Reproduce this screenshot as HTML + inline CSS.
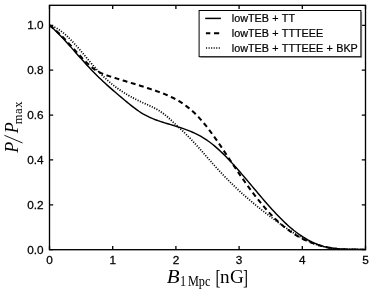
<!DOCTYPE html>
<html><head><meta charset="utf-8"><title>plot</title>
<style>
html,body{margin:0;padding:0;background:#fff;}
body{width:374px;height:294px;overflow:hidden;font-family:"Liberation Sans",sans-serif;}
svg{display:block;filter:grayscale(1);}
.t{font-family:"Liberation Sans",sans-serif;font-size:11px;fill:#000;stroke:#000;stroke-width:0.25px;}
.lg{font-family:"Liberation Sans",sans-serif;font-size:10.8px;fill:#000;stroke:#000;stroke-width:0.22px;word-spacing:0.35px;}
.m{font-family:"Liberation Serif",serif;fill:#000;}
</style></head><body>
<svg width="374" height="294" viewBox="0 0 374 294">
<rect width="374" height="294" fill="#fff"/>
<clipPath id="c"><rect x="49.5" y="5.3" width="316.0" height="244.39999999999998"/></clipPath>
<g clip-path="url(#c)" fill="none" stroke="#000" stroke-width="1.45">
<path d="M49.50,25.30 L51.49,27.01 L53.47,28.80 L55.46,30.68 L57.45,32.63 L59.44,34.64 L61.42,36.70 L63.41,38.82 L65.40,40.98 L67.39,43.18 L69.37,45.40 L71.36,47.64 L73.35,49.89 L75.34,52.15 L77.32,54.41 L79.31,56.66 L81.30,58.89 L83.29,61.10 L85.27,63.28 L87.26,65.44 L89.25,67.56 L91.24,69.65 L93.22,71.71 L95.21,73.74 L97.20,75.73 L99.19,77.68 L101.17,79.59 L103.16,81.46 L105.15,83.29 L107.14,85.10 L109.12,86.87 L111.11,88.63 L113.10,90.36 L115.08,92.07 L117.07,93.77 L119.06,95.46 L121.05,97.14 L123.03,98.82 L125.02,100.48 L127.01,102.14 L129.00,103.76 L130.98,105.36 L132.97,106.91 L134.96,108.41 L136.95,109.86 L138.93,111.24 L140.92,112.54 L142.91,113.77 L144.90,114.90 L146.88,115.95 L148.87,116.93 L150.86,117.83 L152.85,118.68 L154.83,119.47 L156.82,120.21 L158.81,120.91 L160.80,121.57 L162.78,122.21 L164.77,122.84 L166.76,123.44 L168.75,124.04 L170.73,124.64 L172.72,125.24 L174.71,125.84 L176.69,126.45 L178.68,127.08 L180.67,127.72 L182.66,128.39 L184.64,129.09 L186.63,129.82 L188.62,130.59 L190.61,131.39 L192.59,132.25 L194.58,133.15 L196.57,134.11 L198.56,135.13 L200.54,136.21 L202.53,137.37 L204.52,138.59 L206.51,139.89 L208.49,141.28 L210.48,142.75 L212.47,144.30 L214.46,145.92 L216.44,147.62 L218.43,149.39 L220.42,151.22 L222.41,153.12 L224.39,155.07 L226.38,157.07 L228.37,159.13 L230.36,161.23 L232.34,163.38 L234.33,165.56 L236.32,167.78 L238.31,170.03 L240.29,172.31 L242.28,174.61 L244.27,176.94 L246.25,179.27 L248.24,181.63 L250.23,183.99 L252.22,186.35 L254.20,188.72 L256.19,191.08 L258.18,193.44 L260.17,195.78 L262.15,198.11 L264.14,200.43 L266.13,202.72 L268.12,204.99 L270.10,207.23 L272.09,209.43 L274.08,211.60 L276.07,213.73 L278.05,215.82 L280.04,217.85 L282.03,219.84 L284.02,221.77 L286.00,223.64 L287.99,225.45 L289.98,227.19 L291.97,228.86 L293.95,230.47 L295.94,232.01 L297.93,233.48 L299.92,234.89 L301.90,236.22 L303.89,237.49 L305.88,238.69 L307.86,239.83 L309.85,240.89 L311.84,241.89 L313.83,242.82 L315.81,243.68 L317.80,244.47 L319.79,245.19 L321.78,245.84 L323.76,246.42 L325.75,246.93 L327.74,247.38 L329.73,247.76 L331.71,248.07 L333.70,248.34 L335.69,248.55 L337.68,248.73 L339.66,248.86 L341.65,248.97 L343.64,249.04 L345.63,249.10 L347.61,249.14 L349.60,249.17 L351.59,249.19 L353.58,249.22 L355.56,249.25 L357.55,249.30 L359.54,249.36 L361.53,249.44 L363.51,249.55 L365.50,249.70"/>
<path d="M49.50,25.30 L51.49,26.83 L53.47,28.46 L55.46,30.17 L57.45,31.96 L59.44,33.83 L61.42,35.77 L63.41,37.77 L65.40,39.83 L67.39,41.94 L69.37,44.09 L71.36,46.28 L73.35,48.49 L75.34,50.71 L77.32,52.92 L79.31,55.10 L81.30,57.24 L83.29,59.33 L85.27,61.35 L87.26,63.28 L89.25,65.11 L91.24,66.82 L93.22,68.40 L95.21,69.83 L97.20,71.09 L99.19,72.20 L101.17,73.17 L103.16,74.03 L105.15,74.80 L107.14,75.50 L109.12,76.15 L111.11,76.78 L113.10,77.40 L115.08,78.02 L117.07,78.63 L119.06,79.24 L121.05,79.85 L123.03,80.46 L125.02,81.06 L127.01,81.66 L129.00,82.27 L130.98,82.87 L132.97,83.48 L134.96,84.09 L136.95,84.70 L138.93,85.32 L140.92,85.94 L142.91,86.56 L144.90,87.20 L146.88,87.84 L148.87,88.48 L150.86,89.14 L152.85,89.80 L154.83,90.48 L156.82,91.17 L158.81,91.87 L160.80,92.60 L162.78,93.35 L164.77,94.14 L166.76,94.97 L168.75,95.83 L170.73,96.75 L172.72,97.71 L174.71,98.73 L176.69,99.82 L178.68,100.97 L180.67,102.19 L182.66,103.48 L184.64,104.86 L186.63,106.32 L188.62,107.87 L190.61,109.52 L192.59,111.26 L194.58,113.11 L196.57,115.07 L198.56,117.15 L200.54,119.33 L202.53,121.62 L204.52,124.00 L206.51,126.48 L208.49,129.03 L210.48,131.67 L212.47,134.37 L214.46,137.13 L216.44,139.94 L218.43,142.80 L220.42,145.70 L222.41,148.64 L224.39,151.59 L226.38,154.57 L228.37,157.56 L230.36,160.55 L232.34,163.54 L234.33,166.52 L236.32,169.48 L238.31,172.41 L240.29,175.32 L242.28,178.19 L244.27,181.03 L246.25,183.82 L248.24,186.58 L250.23,189.30 L252.22,191.97 L254.20,194.59 L256.19,197.17 L258.18,199.69 L260.17,202.16 L262.15,204.57 L264.14,206.92 L266.13,209.21 L268.12,211.44 L270.10,213.60 L272.09,215.69 L274.08,217.71 L276.07,219.66 L278.05,221.53 L280.04,223.32 L282.03,225.05 L284.02,226.69 L286.00,228.27 L287.99,229.78 L289.98,231.21 L291.97,232.58 L293.95,233.89 L295.94,235.12 L297.93,236.30 L299.92,237.42 L301.90,238.47 L303.89,239.47 L305.88,240.41 L307.86,241.30 L309.85,242.13 L311.84,242.91 L313.83,243.64 L315.81,244.31 L317.80,244.95 L319.79,245.53 L321.78,246.07 L323.76,246.57 L325.75,247.03 L327.74,247.44 L329.73,247.82 L331.71,248.16 L333.70,248.46 L335.69,248.73 L337.68,248.97 L339.66,249.18 L341.65,249.35 L343.64,249.50 L345.63,249.62 L347.61,249.72 L349.60,249.79 L351.59,249.84 L353.58,249.87 L355.56,249.88 L357.55,249.87 L359.54,249.85 L361.53,249.81 L363.51,249.76 L365.50,249.70" stroke-dasharray="4.9,3.6" stroke-width="2.05"/>
<path d="M49.50,25.30 L51.49,25.86 L53.47,26.63 L55.46,27.57 L57.45,28.69 L59.44,29.97 L61.42,31.40 L63.41,32.97 L65.40,34.67 L67.39,36.49 L69.37,38.41 L71.36,40.42 L73.35,42.52 L75.34,44.69 L77.32,46.91 L79.31,49.19 L81.30,51.50 L83.29,53.83 L85.27,56.18 L87.26,58.54 L89.25,60.89 L91.24,63.22 L93.22,65.52 L95.21,67.78 L97.20,69.99 L99.19,72.15 L101.17,74.22 L103.16,76.22 L105.15,78.13 L107.14,79.96 L109.12,81.72 L111.11,83.40 L113.10,85.01 L115.08,86.55 L117.07,88.03 L119.06,89.45 L121.05,90.80 L123.03,92.11 L125.02,93.35 L127.01,94.55 L129.00,95.70 L130.98,96.81 L132.97,97.88 L134.96,98.91 L136.95,99.91 L138.93,100.87 L140.92,101.81 L142.91,102.72 L144.90,103.61 L146.88,104.49 L148.87,105.38 L150.86,106.29 L152.85,107.25 L154.83,108.25 L156.82,109.33 L158.81,110.49 L160.80,111.75 L162.78,113.12 L164.77,114.63 L166.76,116.26 L168.75,118.01 L170.73,119.82 L172.72,121.69 L174.71,123.57 L176.69,125.44 L178.68,127.29 L180.67,129.14 L182.66,131.00 L184.64,132.89 L186.63,134.82 L188.62,136.82 L190.61,138.87 L192.59,140.97 L194.58,143.11 L196.57,145.29 L198.56,147.50 L200.54,149.74 L202.53,151.99 L204.52,154.25 L206.51,156.52 L208.49,158.79 L210.48,161.05 L212.47,163.30 L214.46,165.53 L216.44,167.74 L218.43,169.91 L220.42,172.05 L222.41,174.16 L224.39,176.24 L226.38,178.28 L228.37,180.30 L230.36,182.28 L232.34,184.24 L234.33,186.16 L236.32,188.06 L238.31,189.92 L240.29,191.76 L242.28,193.57 L244.27,195.35 L246.25,197.11 L248.24,198.84 L250.23,200.54 L252.22,202.22 L254.20,203.88 L256.19,205.51 L258.18,207.12 L260.17,208.72 L262.15,210.29 L264.14,211.84 L266.13,213.38 L268.12,214.89 L270.10,216.40 L272.09,217.88 L274.08,219.35 L276.07,220.81 L278.05,222.25 L280.04,223.68 L282.03,225.10 L284.02,226.49 L286.00,227.86 L287.99,229.21 L289.98,230.54 L291.97,231.83 L293.95,233.10 L295.94,234.33 L297.93,235.52 L299.92,236.68 L301.90,237.80 L303.89,238.87 L305.88,239.90 L307.86,240.88 L309.85,241.81 L311.84,242.68 L313.83,243.50 L315.81,244.27 L317.80,244.97 L319.79,245.61 L321.78,246.18 L323.76,246.70 L325.75,247.15 L327.74,247.55 L329.73,247.90 L331.71,248.20 L333.70,248.46 L335.69,248.67 L337.68,248.85 L339.66,249.00 L341.65,249.12 L343.64,249.22 L345.63,249.29 L347.61,249.35 L349.60,249.39 L351.59,249.42 L353.58,249.45 L355.56,249.48 L357.55,249.50 L359.54,249.54 L361.53,249.58 L363.51,249.63 L365.50,249.70" stroke-dasharray="1.1,1.5" stroke-width="1.75"/>
</g>
<rect x="49.5" y="5.3" width="316.0" height="244.39999999999998" fill="none" stroke="#000" stroke-width="1.35"/>
<path d="M49.50,249.7 v-3.7 M49.50,5.3 v3.7 M112.70,249.7 v-3.7 M112.70,5.3 v3.7 M175.90,249.7 v-3.7 M175.90,5.3 v3.7 M239.10,249.7 v-3.7 M239.10,5.3 v3.7 M302.30,249.7 v-3.7 M302.30,5.3 v3.7 M365.50,249.7 v-3.7 M365.50,5.3 v3.7 M49.5,249.70 h3.7 M365.5,249.70 h-3.7 M49.5,204.82 h3.7 M365.5,204.82 h-3.7 M49.5,159.94 h3.7 M365.5,159.94 h-3.7 M49.5,115.06 h3.7 M365.5,115.06 h-3.7 M49.5,70.18 h3.7 M365.5,70.18 h-3.7 M49.5,25.30 h3.7 M365.5,25.30 h-3.7" stroke="#000" stroke-width="1.3" fill="none"/>
<text class="t" transform="translate(49.50,264.2) scale(1.07,1)" text-anchor="middle">0</text>
<text class="t" transform="translate(112.70,264.2) scale(1.07,1)" text-anchor="middle">1</text>
<text class="t" transform="translate(175.90,264.2) scale(1.07,1)" text-anchor="middle">2</text>
<text class="t" transform="translate(239.10,264.2) scale(1.07,1)" text-anchor="middle">3</text>
<text class="t" transform="translate(302.30,264.2) scale(1.07,1)" text-anchor="middle">4</text>
<text class="t" transform="translate(365.50,264.2) scale(1.07,1)" text-anchor="middle">5</text>
<text class="t" transform="translate(43.6,253.50) scale(1.07,1)" text-anchor="end">0.0</text>
<text class="t" transform="translate(43.6,208.62) scale(1.07,1)" text-anchor="end">0.2</text>
<text class="t" transform="translate(43.6,163.74) scale(1.07,1)" text-anchor="end">0.4</text>
<text class="t" transform="translate(43.6,118.86) scale(1.07,1)" text-anchor="end">0.6</text>
<text class="t" transform="translate(43.6,73.98) scale(1.07,1)" text-anchor="end">0.8</text>
<text class="t" transform="translate(43.6,29.10) scale(1.07,1)" text-anchor="end">1.0</text>
<rect x="200.4" y="11.8" width="161.8" height="46.2" fill="#aaa"/>
<rect x="199.1" y="10.5" width="161.8" height="46.2" fill="#fff" stroke="#000" stroke-width="1"/>
<path d="M205.2,18.4 H220.9" stroke="#000" stroke-width="1.5"/>
<path d="M205.9,33.2 h4.4 M214.0,33.2 h5.2" stroke="#000" stroke-width="1.9"/>
<path d="M206.0,48.0 H220.4" stroke="#000" stroke-width="1.6" stroke-dasharray="1.1,1.45"/>
<text class="lg" x="231.8" y="22.30">lowTEB + TT</text>
<text class="lg" x="231.8" y="37.10">lowTEB + TTTEEE</text>
<text class="lg" x="231.8" y="51.90">lowTEB + TTTEEE + BKP</text>
<text class="m" transform="translate(166.7,282.8) scale(1.2,1.09)" font-size="17.5" font-style="italic">B</text>
<text class="m" transform="translate(180.1,286.0) scale(0.86,1)" font-size="14.2">1</text>
<text class="m" transform="translate(187.9,286.0) scale(0.866,1)" font-size="14.2">Mpc</text>
<text class="m" transform="translate(215.6,284.0) scale(0.7,1.0)" font-size="21.5">[</text>
<text class="m" x="220.1" y="282.8" font-size="19.2" letter-spacing="0.2">nG</text>
<text class="m" transform="translate(242.9,284.0) scale(0.7,1.0)" font-size="21.5">]</text>
<g transform="translate(18.2,153.1) rotate(-90)">
<text class="m" x="0.3" y="0" font-size="18" font-style="italic">P</text>
<path d="M10.1,4.4 L17.8,-13.8" stroke="#000" stroke-width="0.9" fill="none"/>
<text class="m" x="19.8" y="0" font-size="18" font-style="italic">P</text>
<text class="m" x="28.9" y="3.5" font-size="12.6" letter-spacing="0.5">max</text>
</g>
</svg></body></html>
